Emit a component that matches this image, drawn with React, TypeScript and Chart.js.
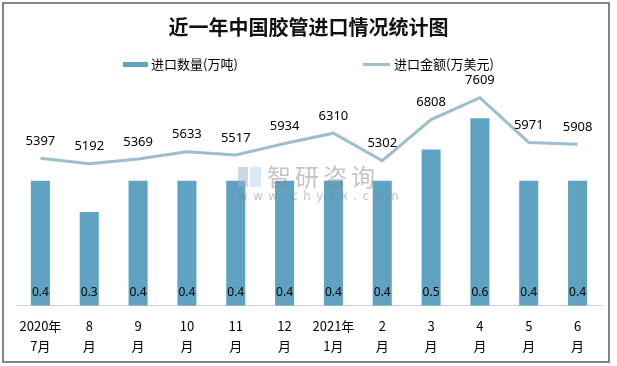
import React, { useEffect, useRef } from "react";
import { Chart, registerables } from "chart.js";

Chart.register(...registerables);

const categories: string[][] = [
  ["2020年", "7月"], ["8", "月"], ["9", "月"], ["10", "月"], ["11", "月"], ["12", "月"],
  ["2021年", "1月"], ["2", "月"], ["3", "月"], ["4", "月"], ["5", "月"], ["6", "月"],
];
const quantity: number[] = [0.4, 0.3, 0.4, 0.4, 0.4, 0.4, 0.4, 0.4, 0.5, 0.6, 0.4, 0.4];
const amount: number[] = [5397, 5192, 5369, 5633, 5517, 5934, 6310, 5302, 6808, 7609, 5971, 5908];

const titleText = "近一年中国胶管进口情况统计图";
const barLabel = "进口数量(万吨)";
const lineLabel = "进口金额(万美元)";

const BAR_COLOR = "#5fa2c1";
const LINE_COLOR = "#9dbfcc";
const FONT = '"Noto Sans CJK SC", "Noto Sans", sans-serif';

const labelPlugin = {
  id: "valueLabels",
  afterDatasetsDraw(chart: any) {
    const ctx = chart.ctx;
    ctx.save();
    ctx.fillStyle = "#000";
    ctx.textAlign = "center";
    ctx.textBaseline = "middle";
    const barMeta = chart.getDatasetMeta(1);
    ctx.font = '12px "Noto Sans", sans-serif';
    barMeta.data.forEach((el: any, i: number) => {
      ctx.fillText(quantity[i].toFixed(1), el.x, chart.chartArea.bottom - 13);
    });
    const lineMeta = chart.getDatasetMeta(0);
    ctx.font = '13px "Noto Sans", sans-serif';
    lineMeta.data.forEach((el: any, i: number) => {
      ctx.fillText(String(amount[i]), el.x, el.y - 17);
    });
    ctx.restore();
  },
};

export default function App() {
  const ref = useRef<HTMLCanvasElement | null>(null);
  useEffect(() => {
    if (!ref.current) return;
    const chart = new Chart(ref.current, {
      type: "bar",
      data: {
        labels: categories,
        datasets: [
          {
            type: "line",
            label: lineLabel,
            data: amount,
            borderColor: LINE_COLOR,
            backgroundColor: LINE_COLOR,
            borderWidth: 3,
            pointRadius: 0,
            tension: 0,
            yAxisID: "y1",
            order: 0,
          } as any,
          {
            type: "bar",
            label: barLabel,
            data: quantity,
            backgroundColor: BAR_COLOR,
            barPercentage: 0.39,
            categoryPercentage: 1,
            yAxisID: "y",
            order: 1,
          },
        ],
      },
      options: {
        responsive: false,
        animation: false,
        layout: { padding: { left: 16, right: 15, top: 87, bottom: 0 } },
        plugins: {
          legend: { display: false },
          title: { display: false },
          tooltip: { enabled: false },
        },
        scales: {
          x: {
            offset: true,
            grid: { display: false, drawTicks: false },
            border: { display: true, color: "#d0d0d0", dash: [2, 2], width: 1 },
            ticks: {
              padding: 10,
              color: "#000",
              font: { family: FONT, size: 13, lineHeight: 1.55 },
              maxRotation: 0,
              autoSkip: false,
            },
          },
          y: { display: false, min: 0, max: 0.7 },
          y1: { display: false, min: 0, max: 8000, position: "right" },
        },
      },
      plugins: [labelPlugin],
    });
    return () => chart.destroy();
  }, []);

  return (
    <div style={{ position: "absolute", left: 0, top: 0, width: 617, height: 366, background: "#fff", overflow: "hidden" }}>
      <canvas ref={ref} width={617} height={366} style={{ position: "absolute", left: 0, top: 0 }} />
      <div style={{ position: "absolute", left: 2, top: 2, width: 604, height: 357, border: "2px solid #858585", pointerEvents: "none" }} />
      <div style={{ position: "absolute", left: 0, top: 13, width: 617, textAlign: "center", fontFamily: FONT, fontWeight: "bold", fontSize: 20, lineHeight: "28px", color: "#111" }}>
        {titleText}
      </div>
      <div style={{ position: "absolute", left: 123, top: 62, width: 25, height: 5, background: BAR_COLOR }} />
      <div style={{ position: "absolute", left: 151, top: 55, fontFamily: FONT, fontSize: 13, lineHeight: "18px", color: "#000", whiteSpace: "nowrap" }}>{barLabel}</div>
      <div style={{ position: "absolute", left: 363, top: 63, width: 27, height: 3, background: LINE_COLOR }} />
      <div style={{ position: "absolute", left: 394, top: 55, fontFamily: FONT, fontSize: 13, lineHeight: "18px", color: "#000", whiteSpace: "nowrap" }}>{lineLabel}</div>
      <div style={{ position: "absolute", left: 238, top: 164, opacity: 0.5, pointerEvents: "none" }}>
        <div style={{ position: "absolute", left: 0, top: 3, width: 10, height: 20, background: "#9fb0d0" }} />
        <div style={{ position: "absolute", left: 12, top: 3, width: 11, height: 20, background: "#b8d4ea" }} />
        <div style={{ position: "absolute", left: 29, top: -2, fontFamily: FONT, fontSize: 24, lineHeight: "28px", color: "#888", letterSpacing: 4, whiteSpace: "nowrap" }}>智研咨询</div>
        <div style={{ position: "absolute", left: 0, top: 25, fontFamily: '"DejaVu Sans", sans-serif', fontSize: 12, lineHeight: "14px", color: "#888", letterSpacing: 5.3, whiteSpace: "nowrap" }}>www.chyxx.com</div>
      </div>
    </div>
  );
}
